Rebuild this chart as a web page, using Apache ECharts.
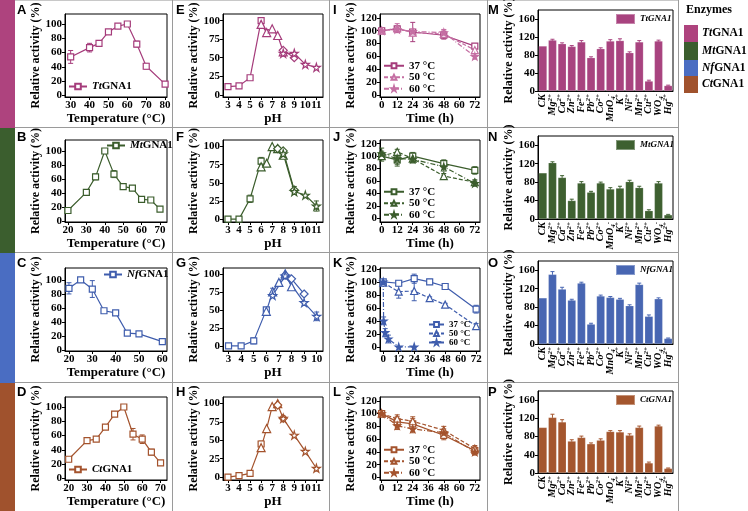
<!DOCTYPE html>
<html><head><meta charset="utf-8">
<script src="https://cdn.jsdelivr.net/npm/echarts@6/dist/echarts.min.js"></script>
<style>html,body{margin:0;padding:0;background:#fff}#c{width:748px;height:511px}</style>
</head><body><div id="c"></div>
<script>
// ---------- DATA ----------
const enzymes = ['TtGNA1','MtGNA1','NfGNA1','CtGNA1'];
// temperature optimum
const tempTt_x=[30,40,45,50,55,60,65,70,80];
const tempTt_y=[54,67,73,89,97,100,72,41,16];
const tempTt_e=[9,6,4,2,2,1,4,4,2];
const tempMt_x=[20,30,35,40,45,50,55,60,65,70];
const tempMt_y=[15,41,63,100,67,49,47,31,30,17];
const tempMt_e=[2,3,4,2,5,2,2,2,2,2];
const tempNf_x=[20,25,30,35,40,45,50,60];
const tempNf_y=[88,100,87,56,53,24,23,12];
const tempNf_e=[8,2,12,2,2,2,2,2];
const tempCt_x=[20,30,35,40,45,50,55,60,65,70];
const tempCt_y=[27,53,55,72,90,100,62,55,37,22];
const tempCt_e=[2,2,2,2,3,1,8,6,4,3];
const tempTicksA=[30,40,50,60,70,80];
const tempTicksB=[20,30,40,50,60,70];
const tempTicksC=[20,30,40,50,60];
// pH optimum (per buffer: [pH, activity])
const phTt_sq=[[3,11],[4,12],[5,23],[6,100]];
const phTt_tri=[[6,95],[6.5,84],[7,89],[7.5,80],[8,58]];
const phTt_dia=[[8,60],[9,50]];
const phTt_star=[[8,56],[9,56],[10,41],[11,37]];
const phMt_sq=[[3,0],[4,0],[5,28],[6,80]];
const phMt_tri=[[6,72],[6.5,77],[7,100],[7.5,97],[8,88]];
const phMt_dia=[[7.5,97],[8,94],[9,40]];
const phMt_star=[[8,90],[9,38],[10,33],[11,18]];
const phNf_sq=[[3,0],[4,0],[5,7],[6,50]];
const phNf_tri=[[6,48],[6.5,75],[7,88],[7.5,100],[8,82]];
const phNf_dia=[[7.5,98],[8,93],[9,72]];
const phNf_star=[[6.5,70],[7.5,97],[9,60],[10,41]];
const phCt_sq=[[3,0],[4,2],[5,5],[6,45]];
const phCt_tri=[[6,40],[6.5,66],[7,96],[7.5,100]];
const phCt_dia=[[7.5,98],[8,80]];
const phCt_star=[[8,80],[9,57],[10,35],[11,12]];
const phErr_Mt=[[5,28,5],[6,80,5],[9,40,5],[11,18,7]];
const phErr_Nf=[[5,7,4],[6.5,75,5],[10,41,6]];
const phErr_Tt=[[6.5,84,4],[8,58,4],[9,52,4]];
const phErr_Ct=[[6,45,4],[8,80,3]];
const phTicks=[3,4,5,6,7,8,9,10,11];
const phTicksG=[3,4,5,6,7,8,9,10];
const pctTicks=[0,25,50,75,100];
const tempPctTicks=[0,20,40,60,80,100];
// thermostability
const timeX=[0,12,24,48,72];
const timeTicks=[0,12,24,36,48,60,72];
const stabTicks=[0,20,40,60,80,100,120];
const stabTt_37=[100,103,98,93,76], stabTt_37e=[3,4,15,6,3];
const stabTt_50=[100,104,97,95,70], stabTt_50e=[3,7,5,6,4];
const stabTt_60=[100,102,99,97,60], stabTt_60e=[3,4,3,5,4];
const stabMt_37=[100,94,100,88,77], stabMt_37e=[8,10,6,6,6];
const stabMt_50=[100,107,96,68,58], stabMt_50e=[5,4,7,4,4];
const stabMt_60=[104,96,95,83,56], stabMt_60e=[9,9,5,7,4];
const stabNf_37x=[0,12,24,36,48,72], stabNf_37=[100,98,105,100,93,58], stabNf_37e=[2,4,7,4,2,6];
const stabNf_50x=[0,12,24,36,48,72], stabNf_50=[99,85,86,75,65,32], stabNf_50e=[2,10,15,2,2,4];
const stabNf_60x=[0,0.3,1.5,4,12,24], stabNf_60=[100,40,22,12,0,0], stabNf_60e=[2,6,6,6,0,0];
const stabCt_37=[100,87,84,66,42], stabCt_37e=[2,8,8,7,6];
const stabCt_50=[100,92,88,74,45], stabCt_50e=[2,6,7,6,5];
const stabCt_60=[100,81,76,70,40], stabCt_60e=[2,6,6,6,5];
// metal ions
const ions=['CK','Mg^2+','Ca^2+','Zn^2+','Fe^2+','Pb^2+','Co^2+','MnO_4^-','K^+','Ni^2+','Mn^2+','Cu^2+','WO_4^-','Hg^2+'];
const ionTt=[100,113,105,99,109,74,94,111,112,85,109,22,111,12];
const ionTt_e=[0,2,2,2,3,2,2,3,4,2,3,2,2,1];
const ionMt=[100,122,90,40,78,58,78,65,67,81,68,18,78,9];
const ionMt_e=[0,2,4,3,3,2,2,3,4,3,3,2,3,1];
const ionNf=[100,151,119,95,132,43,104,101,97,83,129,60,98,12];
const ionNf_e=[0,6,4,2,2,2,2,2,2,2,3,3,2,1];
const ionCt=[100,122,112,70,78,64,72,91,90,83,100,22,103,10];
const ionCt_e=[0,7,5,3,3,2,3,2,3,3,3,2,2,1];
const ionTicks=[0,40,80,120,160];

// ---------- STYLE ----------
const FONT='"Liberation Serif","Times New Roman",serif';
const SANS='"Liberation Sans",Arial,sans-serif';
const tickStyle={fontFamily:FONT,fontWeight:'bold',fontSize:11,color:'#000'};
const COL={tt:'#A53C7B',mt:'#3B5D2C',nf:'#3F5DAD',ct:'#A4532D'};
const COL2={tt:'#C56FA3',mt:'#3B5D2C',nf:'#3F5DAD',ct:'#A4532D'};
const BAR={tt:'#A8437F',mt:'#3E6030',nf:'#4866B2',ct:'#A4562E'};
const STRIP=['#AE437E','#3B5E2E','#4A6DC2','#A0522D'];
const STAR='path://M50,0 L61,35 L98,35 L68,57 L79,91 L50,70 L21,91 L32,57 L2,35 L39,35 Z';

const colX=[[65,102],[223,100],[380,100],[538,135]];
const rowBox=[[14,83],[140,82],[268,83],[397,83]];
const barBox=[[10,81],[136,83],[261,83],[391,82]];

const option={animation:false,grid:[],xAxis:[],yAxis:[],series:[],legend:[],graphic:[]};

function addGrid(l,t,w,h){
  option.grid.push({left:l,top:t,width:w,height:h,show:true,borderColor:'#000',borderWidth:1,
    backgroundColor:'transparent',containLabel:false,outerBoundsMode:'none'});
  return option.grid.length-1;
}
function valAxis(gi,min,max,ticks,name,gap,margin,isY){
  return {gridIndex:gi,type:'value',min,max,
    axisLine:{show:true,onZero:false,lineStyle:{color:'#000',width:1}},
    axisTick:{show:true,length:3,customValues:ticks,lineStyle:{color:'#000'}},
    axisLabel:Object.assign({customValues:ticks,margin:margin},tickStyle),
    splitLine:{show:false},
    name,nameLocation:'middle',nameGap:gap,
    nameTextStyle:{fontFamily:FONT,fontWeight:'bold',fontSize:isY?12:13,color:'#000'}};
}
function errSeries(gi,data,color,cap){
  cap=cap||2.5;
  return {type:'custom',xAxisIndex:gi,yAxisIndex:gi,silent:true,z:2,
    data:data.map(d=>[d[0],d[1]-d[2],d[1]+d[2]]),
    encode:{x:0,y:[1,2]},
    renderItem:function(p,api){
      const x=api.value(0);
      const lo=api.coord([x,api.value(1)]), hi=api.coord([x,api.value(2)]);
      const st={stroke:color,lineWidth:1};
      return {type:'group',children:[
        {type:'line',shape:{x1:lo[0],y1:lo[1],x2:hi[0],y2:hi[1]},style:st},
        {type:'line',shape:{x1:lo[0]-cap,y1:lo[1],x2:lo[0]+cap,y2:lo[1]},style:st},
        {type:'line',shape:{x1:hi[0]-cap,y1:hi[1],x2:hi[0]+cap,y2:hi[1]},style:st}]};
    }};
}
function lineSeries(gi,name,data,color,symbol,dash,filled,size){
  return {type:'line',name,xAxisIndex:gi,yAxisIndex:gi,data,symbol,symbolSize:size||7,
    lineStyle:{color,width:1.2,type:dash||'solid'},
    itemStyle:{color:filled?color:'#fff',borderColor:color,borderWidth:1.2},z:3};
}
function zip(x,y){return x.map((v,i)=>[v,y[i]]);}
function zip3(x,y,e){return x.map((v,i)=>[v,y[i],e[i]]);}

const legRich={i:{fontStyle:'italic',fontWeight:'bold',fontFamily:FONT,fontSize:11,color:'#000'},
               n:{fontWeight:'bold',fontFamily:FONT,fontSize:11,color:'#000'}};
function enzFmt(name){const s=name.split('#')[1];return '{i|'+s.slice(0,2)+'}{n|'+s.slice(2)+'}';}
function plainFmt(name){return name.split('#')[1];}

// ---------- TEMPERATURE PANELS (col 1) ----------
const tempSets=[
  {k:'tt',x:tempTt_x,y:tempTt_y,e:tempTt_e,xr:[27,81],yr:[-2,114],ticks:tempTicksA,leg:{left:68,top:81}},
  {k:'mt',x:tempMt_x,y:tempMt_y,e:tempMt_e,xr:[18.4,73.8],yr:[-1.4,115.7],ticks:tempTicksB,leg:{left:106,top:140}},
  {k:'nf',x:tempNf_x,y:tempNf_y,e:tempNf_e,xr:[18.3,62],yr:[-1.4,117],ticks:tempTicksC,leg:{left:103,top:269}},
  {k:'ct',x:tempCt_x,y:tempCt_y,e:tempCt_e,xr:[18,73.5],yr:[-2,114],ticks:tempTicksB,leg:{left:68,top:464}}
];
tempSets.forEach((s,r)=>{
  const gi=addGrid(colX[0][0],rowBox[r][0],colX[0][1],rowBox[r][1]);
  option.xAxis.push(valAxis(gi,s.xr[0],s.xr[1],s.ticks,'Temperature (°C)',14,3,false));
  option.yAxis.push(valAxis(gi,s.yr[0],s.yr[1],tempPctTicks,'Relative activity (%)',20,3,true));
  option.series.push(errSeries(gi,zip3(s.x,s.y,s.e),COL[s.k]));
  const nm='T'+r+'#'+enzymes[r];
  option.series.push(lineSeries(gi,nm,zip(s.x,s.y),COL[s.k],'rect','solid',false,6));
  option.legend.push({left:s.leg.left,top:s.leg.top,data:[nm],formatter:enzFmt,selectedMode:false,
    itemWidth:18,itemHeight:7,itemGap:2,padding:0,textStyle:{rich:legRich,fontFamily:FONT,fontWeight:'bold',fontSize:11}});
});

// ---------- pH PANELS (col 2) ----------
const phSets=[
  {k:'tt',sq:phTt_sq,tri:phTt_tri,dia:phTt_dia,star:phTt_star,err:phErr_Tt,xr:[2.55,11.6],yr:[-3,109],ticks:phTicks},
  {k:'mt',sq:phMt_sq,tri:phMt_tri,dia:phMt_dia,star:phMt_star,err:phErr_Mt,xr:[2.55,11.6],yr:[-4,109],ticks:phTicks},
  {k:'nf',sq:phNf_sq,tri:phNf_tri,dia:phNf_dia,star:phNf_star,err:phErr_Nf,xr:[2.56,10.5],yr:[-7,108],ticks:phTicksG},
  {k:'ct',sq:phCt_sq,tri:phCt_tri,dia:phCt_dia,star:phCt_star,err:phErr_Ct,xr:[2.55,11.6],yr:[-4,109],ticks:phTicks}
];
phSets.forEach((s,r)=>{
  const gi=addGrid(colX[1][0],rowBox[r][0],colX[1][1],rowBox[r][1]);
  option.xAxis.push(valAxis(gi,s.xr[0],s.xr[1],s.ticks,'pH',13,3,false));
  option.yAxis.push(valAxis(gi,s.yr[0],s.yr[1],pctTicks,'Relative activity (%)',17,3,true));
  const c=COL[s.k];
  option.series.push(errSeries(gi,s.err,c));
  option.series.push(lineSeries(gi,'P'+r+'#sq',s.sq,c,'rect','solid',false,6));
  option.series.push(lineSeries(gi,'P'+r+'#tri',s.tri,c,'triangle','solid',false,8));
  option.series.push(lineSeries(gi,'P'+r+'#dia',s.dia,c,'diamond','solid',false,8));
  option.series.push(lineSeries(gi,'P'+r+'#star',s.star,c,STAR,'solid',false,8));
});

// ---------- STABILITY PANELS (col 3) ----------
const stabSets=[
  {k:'tt',x37:timeX,x50:timeX,x60:timeX,a:stabTt_37,ae:stabTt_37e,b:stabTt_50,be:stabTt_50e,c:stabTt_60,ce:stabTt_60e,xr:[-1.3,76],yr:[-3,126],leg:{left:383,top:60},fs:11},
  {k:'mt',x37:timeX,x50:timeX,x60:timeX,a:stabMt_37,ae:stabMt_37e,b:stabMt_50,be:stabMt_50e,c:stabMt_60,ce:stabMt_60e,xr:[-1.3,76],yr:[-6,126],leg:{left:383,top:186},fs:11},
  {k:'nf',x37:stabNf_37x,x50:stabNf_50x,x60:stabNf_60x,a:stabNf_37,ae:stabNf_37e,b:stabNf_50,be:stabNf_50e,c:stabNf_60,ce:stabNf_60e,xr:[-2.5,75],yr:[-6.5,121.5],leg:{left:428,top:320},fs:9},
  {k:'ct',x37:timeX,x50:timeX,x60:timeX,a:stabCt_37,ae:stabCt_37e,b:stabCt_50,be:stabCt_50e,c:stabCt_60,ce:stabCt_60e,xr:[-1.3,76],yr:[-4,126],leg:{left:383,top:444},fs:11}
];
const tempNames=['37 °C','50 °C','60 °C'];
stabSets.forEach((s,r)=>{
  const gi=addGrid(colX[2][0],rowBox[r][0],colX[2][1],rowBox[r][1]);
  option.xAxis.push(valAxis(gi,s.xr[0],s.xr[1],timeTicks,'Time (h)',13,3,false));
  option.yAxis.push(valAxis(gi,s.yr[0],s.yr[1],stabTicks,'Relative activity (%)',15,3,true));
  const c1=COL[s.k], c2=COL2[s.k];
  option.series.push(errSeries(gi,zip3(s.x37,s.a,s.ae),c1));
  option.series.push(errSeries(gi,zip3(s.x50,s.b,s.be),c2));
  option.series.push(errSeries(gi,zip3(s.x60,s.c,s.ce),c2));
  const n=tempNames.map(t=>'S'+r+'#'+t);
  option.series.push(lineSeries(gi,n[0],zip(s.x37,s.a),c1,'rect','solid',false,6));
  option.series.push(lineSeries(gi,n[1],zip(s.x50,s.b),c2,'triangle',[4,2],false,7));
  option.series.push(lineSeries(gi,n[2],zip(s.x60,s.c),c2,STAR,[5,2,1,2],true,7));
  option.legend.push({left:s.leg.left,top:s.leg.top,orient:'vertical',data:n,formatter:plainFmt,selectedMode:false,
    itemWidth:s.fs>10?20:15,itemHeight:6,itemGap:0,padding:0,
    textStyle:{fontFamily:FONT,fontWeight:'bold',fontSize:s.fs,color:'#000',lineHeight:s.fs>10?11.5:9}});
});

// ---------- METAL ION PANELS (col 4) ----------
function ionRich(s){
  const m=s.match(/^([^_^]+)(?:_(\w+))?(?:\^(.+))?$/);
  let r='{b|'+m[1]+'}';
  if(m[2]) r+='{sub|'+m[2]+'}';
  if(m[3]) r+='{sup|'+m[3]+'}';
  return r;
}
const ionSets=[{k:'tt',v:ionTt,e:ionTt_e},{k:'mt',v:ionMt,e:ionMt_e},{k:'nf',v:ionNf,e:ionNf_e},{k:'ct',v:ionCt,e:ionCt_e}];
ionSets.forEach((s,r)=>{
  const gi=addGrid(colX[3][0],barBox[r][0],colX[3][1],barBox[r][1]);
  option.xAxis.push({gridIndex:gi,type:'category',data:ions,
    axisLine:{show:true,lineStyle:{color:'#000'}},axisTick:{show:false},
    axisLabel:{interval:0,rotate:90,margin:3,formatter:ionRich,
      rich:{b:{fontFamily:FONT,fontStyle:'italic',fontWeight:'bold',fontSize:10,color:'#000',lineHeight:12},
            sup:{fontFamily:FONT,fontStyle:'italic',fontWeight:'bold',fontSize:7,color:'#000',verticalAlign:'top',lineHeight:12},
            sub:{fontFamily:FONT,fontStyle:'italic',fontWeight:'bold',fontSize:7,color:'#000',verticalAlign:'bottom',lineHeight:12}}},
    splitLine:{show:false}});
  option.yAxis.push(valAxis(gi,0,180,ionTicks,'Relative activity (%)',16,3,true));
  const nm='B'+r+'#'+enzymes[r];
  option.series.push({type:'bar',name:nm,xAxisIndex:gi,yAxisIndex:gi,data:s.v,barCategoryGap:'14%',
    itemStyle:{color:BAR[s.k],borderColor:'rgba(255,255,255,0.35)',borderWidth:0.5},z:2});
  option.series.push(errSeries(gi,s.v.map((v,i)=>[i,v,s.e[i]]).filter(d=>d[2]>0),BAR[s.k],2));
  option.legend.push({left:615,top:barBox[r][0]+3,data:[nm],formatter:enzFmt,selectedMode:false,icon:'rect',
    itemWidth:19,itemHeight:10,itemGap:2,padding:0,
    textStyle:{rich:{i:{fontStyle:'italic',fontWeight:'bold',fontFamily:FONT,fontSize:9,color:'#000'},
                     n:{fontStyle:'italic',fontWeight:'bold',fontFamily:FONT,fontSize:9,color:'#000'}}}});
});

// ---------- DECORATION ----------
const g=option.graphic;
const bands=[[0,128],[128,253],[253,383],[383,511]];
bands.forEach((b,i)=>g.push({type:'rect',shape:{x:0,y:b[0],width:15,height:b[1]-b[0]},style:{fill:STRIP[i]},silent:true}));
const sep='#9a9a9a';
[127.5,252.5,382.5].forEach(y=>g.push({type:'line',shape:{x1:15,y1:y,x2:679,y2:y},style:{stroke:sep,lineWidth:1},silent:true}));
g.push({type:'line',shape:{x1:15,y1:0.5,x2:679,y2:0.5},style:{stroke:'#c8c8c8',lineWidth:1},silent:true});
[172.5,329.5,487.5,678.5].forEach(x=>g.push({type:'line',shape:{x1:x,y1:0,x2:x,y2:511},style:{stroke:sep,lineWidth:1},silent:true}));
const letters=[['A','E','I','M'],['B','F','J','N'],['C','G','K','O'],['D','H','L','P']];
const lx=[17,176,333,488], ly=[10,137,263,392];
letters.forEach((row,r)=>row.forEach((L,c)=>g.push({type:'text',x:lx[c],y:ly[r],
  style:{text:L,fontFamily:SANS,fontWeight:'bold',fontSize:13,fill:'#000',textVerticalAlign:'middle'},silent:true})));
// enzyme key
g.push({type:'text',x:686,y:10,style:{text:'Enzymes',fontFamily:FONT,fontWeight:'bold',fontSize:12,fill:'#000',textVerticalAlign:'middle'},silent:true});
const keyY=[25,42,60,76,93];
enzymes.forEach((e,i)=>{
  g.push({type:'rect',shape:{x:684,y:keyY[i],width:14,height:keyY[i+1]-keyY[i]},style:{fill:STRIP[i]},silent:true});
  g.push({type:'text',x:702,y:(keyY[i]+keyY[i+1])/2,style:{
    text:'{i|'+e.slice(0,2)+'}{n|'+e.slice(2)+'}',textVerticalAlign:'middle',
    rich:{i:{fontStyle:'italic',fontWeight:'bold',fontFamily:FONT,fontSize:11.5,fill:'#000'},
          n:{fontWeight:'bold',fontFamily:FONT,fontSize:11.5,fill:'#000'}}},silent:true});
});

const chart=echarts.init(document.getElementById('c'),null,{renderer:'canvas'});
chart.setOption(option);
</script></body></html>
